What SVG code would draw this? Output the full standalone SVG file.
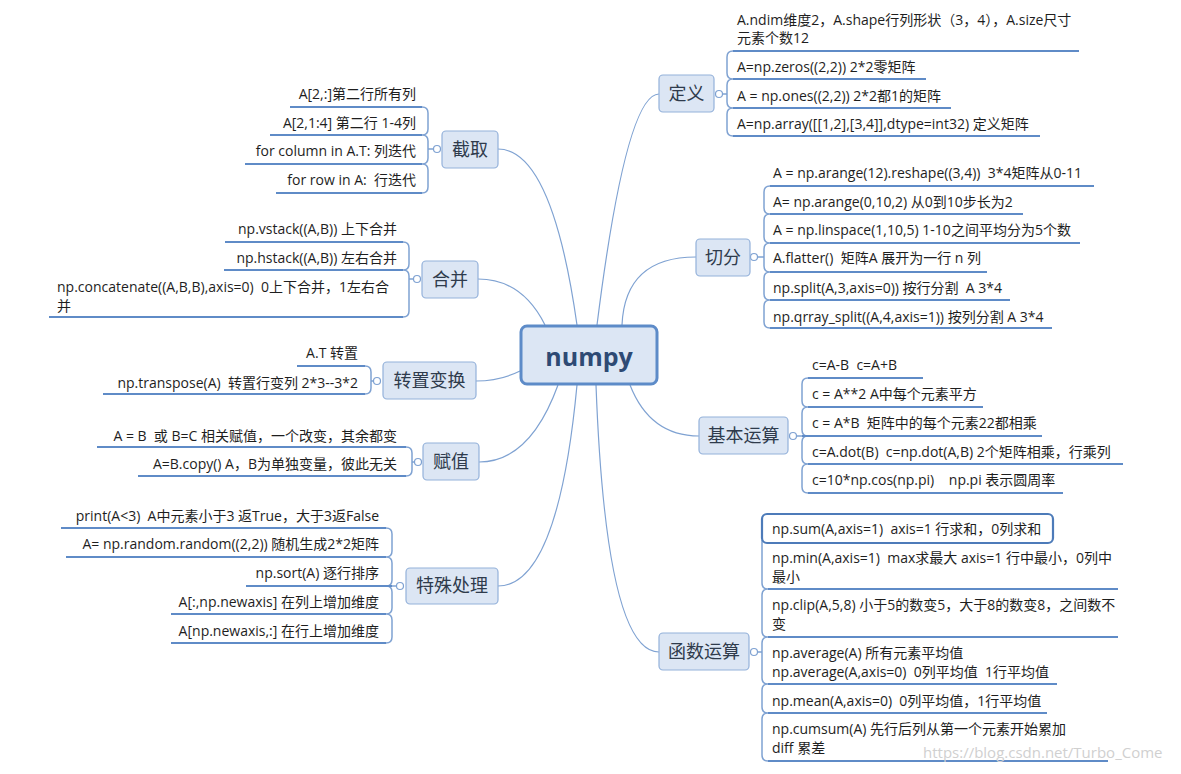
<svg xmlns="http://www.w3.org/2000/svg" width="1181" height="774" viewBox="0 0 1181 774">
<style>
  .bg{fill:#ffffff}
  .node rect{fill:#dce6f4;stroke:#93b1da;stroke-width:1.2}
  .node text{font-family:"Noto Sans CJK SC","Open Sans",sans-serif;font-size:18px;fill:#2f3b4c;text-anchor:middle}
  .item{font-family:"Open Sans","Noto Sans CJK SC",sans-serif;font-size:14px;fill:#1e1e1e;white-space:pre}
  .r{text-anchor:end}
  .curve{fill:none;stroke:#7fa2d2;stroke-width:1.2}
  .br{fill:none;stroke:#7fa2d2;stroke-width:1.5}
  .ul{fill:none;stroke:#5f8bc7;stroke-width:2}
  .dot{fill:#ffffff;stroke:#7fa2d2;stroke-width:1.2}
  .wm{font-family:"Open Sans",sans-serif;font-size:15px;fill:#d0d0d0}
</style>
<rect class="bg" x="0" y="0" width="1181" height="774"/>

<g id="connectors">
  <path class="curve" d="M597,325 Q626,94 659,94"/>
  <path class="curve" d="M577,325 Q552,149 498,149"/>
  <path class="curve" d="M545,325 Q522,279 478,279"/>
  <path class="curve" d="M622,325 Q625,257 696,257"/>
  <path class="curve" d="M520,371 Q500,381 476,381"/>
  <path class="curve" d="M630,385 Q650,436 699,436"/>
  <path class="curve" d="M558,385 Q530,462 479,462"/>
  <path class="curve" d="M577,385 Q558,586 498,586"/>
  <path class="curve" d="M596,385 Q606,652 659,652"/>

  <!-- 定义 bracket -->
  <path class="br" d="M733,51 Q727,51 727,57 V73 Q727,79 733,79 M727,85 Q727,79 733,79 M727,85 V102 Q727,108 733,108 M727,114 Q727,108 733,108 M727,114 V130 Q727,136 733,136 M722.5,94 H727"/>
  <path class="ul" d="M733,51 H1079 M733,79 H926 M733,108 H951 M733,136 H1040"/>

  <!-- 切分 bracket -->
  <path class="br" d="M770,186 Q764,186 764,192 V208 Q764,214 770,214 Q764,214 764,220 V237 Q764,243 770,243 Q764,243 764,249 V266 Q764,272 770,272 Q764,272 764,278 V294 Q764,300 770,300 Q764,300 764,306 V322 Q764,328 770,328 M757.5,257 H764"/>
  <path class="ul" d="M770,186 H1094 M770,214 H1023 M770,243 H1080 M770,272 H987 M770,300 H1010 M770,328 H1052"/>

  <!-- 基本运算 bracket -->
  <path class="br" d="M808,378 Q802,378 802,384 V401 Q802,407 808,407 Q802,407 802,413 V430 Q802,436 808,436 Q802,436 802,442 V458 Q802,464 808,464 Q802,464 802,470 V487 Q802,493 808,493 M796.5,436 H802"/>
  <path class="ul" d="M808,378 H923 M808,407 H983 M802,436 H1042 M808,464 H1123 M808,493 H1063"/>

  <!-- 函数运算 bracket -->
  <path class="br" d="M762,540 V583 Q762,589 768,589 Q762,589 762,595 V631 Q762,637 768,637 Q762,637 762,643 V678 Q762,684 768,684 Q762,684 762,690 V707 Q762,713 768,713 Q762,713 762,719 V755 Q762,761 768,761 M757.5,652 H762"/>
  <path class="ul" d="M768,589 H1118 M768,637 H1118 M768,684 H1057 M768,713 H1047 M768,761 H1108"/>
  <rect x="762" y="514" width="291" height="29" rx="5" fill="#ffffff" stroke="#4d7bb9" stroke-width="2.2"/>

  <!-- 截取 bracket -->
  <path class="br" d="M422,107 Q428,107 428,113 V129 Q428,135 422,135 Q428,135 428,141 V158 Q428,164 422,164 Q428,164 428,170 V187 Q428,193 422,193 M428,149 H433.5"/>
  <path class="ul" d="M422,107 H290 M422,135 H270 M422,164 H245 M422,193 H276"/>

  <!-- 合并 bracket -->
  <path class="br" d="M403,242 Q409,242 409,248 V264 Q409,270 403,270 Q409,270 409,276 V311 Q409,317 403,317 M409,279 H413.5"/>
  <path class="ul" d="M403,242 H225 M403,270 H224 M403,317 H49"/>

  <!-- 转置变换 bracket -->
  <path class="br" d="M365,366 Q371,366 371,372 V388 Q371,394 365,394 M371,381 H373.5"/>
  <path class="ul" d="M365,366 H297 M365,394 H103"/>

  <!-- 赋值 bracket -->
  <path class="br" d="M406,447 Q412,447 412,453 V470 Q412,476 406,476 M412,462 H414.5"/>
  <path class="ul" d="M406,447 H97 M406,476 H138"/>

  <!-- 特殊处理 bracket -->
  <path class="br" d="M386,528 Q392,528 392,534 V551 Q392,557 386,557 Q392,557 392,563 V580 Q392,586 386,586 Q392,586 392,592 V608 Q392,614 386,614 Q392,614 392,620 V637 Q392,643 386,643 M392,586 H396.5"/>
  <path class="ul" d="M386,528 H61 M386,557 H66 M392,586 H246 M386,614 H171 M386,643 H171"/>

  <!-- connector dots -->
  <circle class="dot" cx="719" cy="94" r="3.5"/>
  <circle class="dot" cx="754" cy="257" r="3.5"/>
  <circle class="dot" cx="793" cy="436" r="3.5"/>
  <circle class="dot" cx="754" cy="652" r="3.5"/>
  <circle class="dot" cx="437" cy="149" r="3.5"/>
  <circle class="dot" cx="417" cy="279" r="3.5"/>
  <circle class="dot" cx="377" cy="381" r="3.5"/>
  <circle class="dot" cx="418" cy="462" r="3.5"/>
  <circle class="dot" cx="400" cy="586" r="3.5"/>
</g>

<g id="numpy">
  <rect x="521" y="326" width="136" height="58" rx="6" fill="#dce6f4" stroke="#5d8bc8" stroke-width="3"/>
  <text x="589" y="366" font-family="'Open Sans',sans-serif" font-size="25" font-weight="bold" fill="#2e4a74" text-anchor="middle">numpy</text>
</g>

<g id="dingyi" class="node">
  <rect x="659" y="75" width="55" height="37" rx="4"/>
  <text x="686.5" y="100">定义</text>
</g>
<g id="dingyi-items">
  <text class="item" x="737" y="25">A.ndim维度2，A.shape行列形状（3，4），A.size尺寸</text>
  <text class="item" x="737" y="43">元素个数12</text>
  <text class="item" x="737" y="72">A=np.zeros((2,2)) 2*2零矩阵</text>
  <text class="item" x="737" y="101">A = np.ones((2,2)) 2*2都1的矩阵</text>
  <text class="item" x="737" y="129">A=np.array([[1,2],[3,4]],dtype=int32) 定义矩阵</text>
</g>

<g id="qiefen" class="node">
  <rect x="696" y="239" width="54" height="37" rx="4"/>
  <text x="723" y="263.5">切分</text>
</g>
<g id="qiefen-items">
  <text class="item" x="773" y="178">A = np.arange(12).reshape((3,4))  3*4矩阵从0-11</text>
  <text class="item" x="773" y="207">A= np.arange(0,10,2) 从0到10步长为2</text>
  <text class="item" x="773" y="235">A = np.linspace(1,10,5) 1-10之间平均分为5个数</text>
  <text class="item" x="773" y="263">A.flatter()  矩阵A 展开为一行 n 列</text>
  <text class="item" x="773" y="293">np.split(A,3,axis=0)) 按行分割  A 3*4</text>
  <text class="item" x="773" y="322">np.qrray_split((A,4,axis=1)) 按列分割 A 3*4</text>
</g>

<g id="jiben" class="node">
  <rect x="699" y="417" width="89" height="37" rx="4"/>
  <text x="743.5" y="442">基本运算</text>
</g>
<g id="jiben-items">
  <text class="item" x="812" y="370">c=A-B  c=A+B</text>
  <text class="item" x="812" y="399">c = A**2 A中每个元素平方</text>
  <text class="item" x="812" y="428">c = A*B  矩阵中的每个元素22都相乘</text>
  <text class="item" x="812" y="457">c=A.dot(B)  c=np.dot(A,B) 2个矩阵相乘，行乘列</text>
  <text class="item" x="812" y="485">c=10*np.cos(np.pi)    np.pi 表示圆周率</text>
</g>

<g id="hanshu" class="node">
  <rect x="659" y="633" width="90" height="37" rx="4"/>
  <text x="704" y="658">函数运算</text>
</g>
<g id="hanshu-items">
  <text class="item" x="772" y="534">np.sum(A,axis=1)  axis=1 行求和，0列求和</text>
  <text class="item" x="772" y="563">np.min(A,axis=1)  max求最大 axis=1 行中最小，0列中</text>
  <text class="item" x="772" y="582">最小</text>
  <text class="item" x="772" y="610">np.clip(A,5,8) 小于5的数变5，大于8的数变8，之间数不</text>
  <text class="item" x="772" y="629">变</text>
  <text class="item" x="772" y="658">np.average(A) 所有元素平均值</text>
  <text class="item" x="772" y="677">np.average(A,axis=0)  0列平均值  1行平均值</text>
  <text class="item" x="772" y="706">np.mean(A,axis=0)  0列平均值，1行平均值</text>
  <text class="item" x="772" y="734">np.cumsum(A) 先行后列从第一个元素开始累加</text>
  <text class="item" x="772" y="753">diff 累差</text>
</g>

<g id="jiequ" class="node">
  <rect x="442" y="131" width="56" height="37" rx="4"/>
  <text x="470" y="155.5">截取</text>
</g>
<g id="jiequ-items">
  <text class="item r" x="416" y="99">A[2,:]第二行所有列</text>
  <text class="item r" x="416" y="128">A[2,1:4] 第二行 1-4列</text>
  <text class="item r" x="416" y="156">for column in A.T: 列迭代</text>
  <text class="item r" x="416" y="185">for row in A:  行迭代</text>
</g>

<g id="hebing" class="node">
  <rect x="422" y="261" width="56" height="37" rx="4"/>
  <text x="450" y="285.5">合并</text>
</g>
<g id="hebing-items">
  <text class="item r" x="397" y="234">np.vstack((A,B)) 上下合并</text>
  <text class="item r" x="397" y="263">np.hstack((A,B)) 左右合并</text>
  <text class="item" x="57" y="292">np.concatenate((A,B,B),axis=0)  0上下合并，1左右合</text>
  <text class="item" x="57" y="311">并</text>
</g>

<g id="zhuanzhi" class="node">
  <rect x="383" y="362" width="93" height="37" rx="4"/>
  <text x="429.5" y="387">转置变换</text>
</g>
<g id="zhuanzhi-items">
  <text class="item r" x="358" y="358">A.T 转置</text>
  <text class="item r" x="358" y="388">np.transpose(A)  转置行变列 2*3--3*2</text>
</g>

<g id="fuzhi" class="node">
  <rect x="423" y="443" width="56" height="37" rx="4"/>
  <text x="451" y="467.5">赋值</text>
</g>
<g id="fuzhi-items">
  <text class="item r" x="397" y="441">A = B  或 B=C 相关赋值，一个改变，其余都变</text>
  <text class="item r" x="397" y="469">A=B.copy() A，B为单独变量，彼此无关</text>
</g>

<g id="teshu" class="node">
  <rect x="406" y="568" width="92" height="36" rx="4"/>
  <text x="452" y="592">特殊处理</text>
</g>
<g id="teshu-items">
  <text class="item r" x="379" y="521">print(A&lt;3)  A中元素小于3 返True，大于3返False</text>
  <text class="item r" x="379" y="549">A= np.random.random((2,2)) 随机生成2*2矩阵</text>
  <text class="item r" x="379" y="578">np.sort(A) 逐行排序</text>
  <text class="item r" x="379" y="607">A[:,np.newaxis] 在列上增加维度</text>
  <text class="item r" x="379" y="636">A[np.newaxis,:] 在行上增加维度</text>
</g>

<text class="wm" x="923" y="758">https://blog.csdn.net/Turbo_Come</text>
</svg>
